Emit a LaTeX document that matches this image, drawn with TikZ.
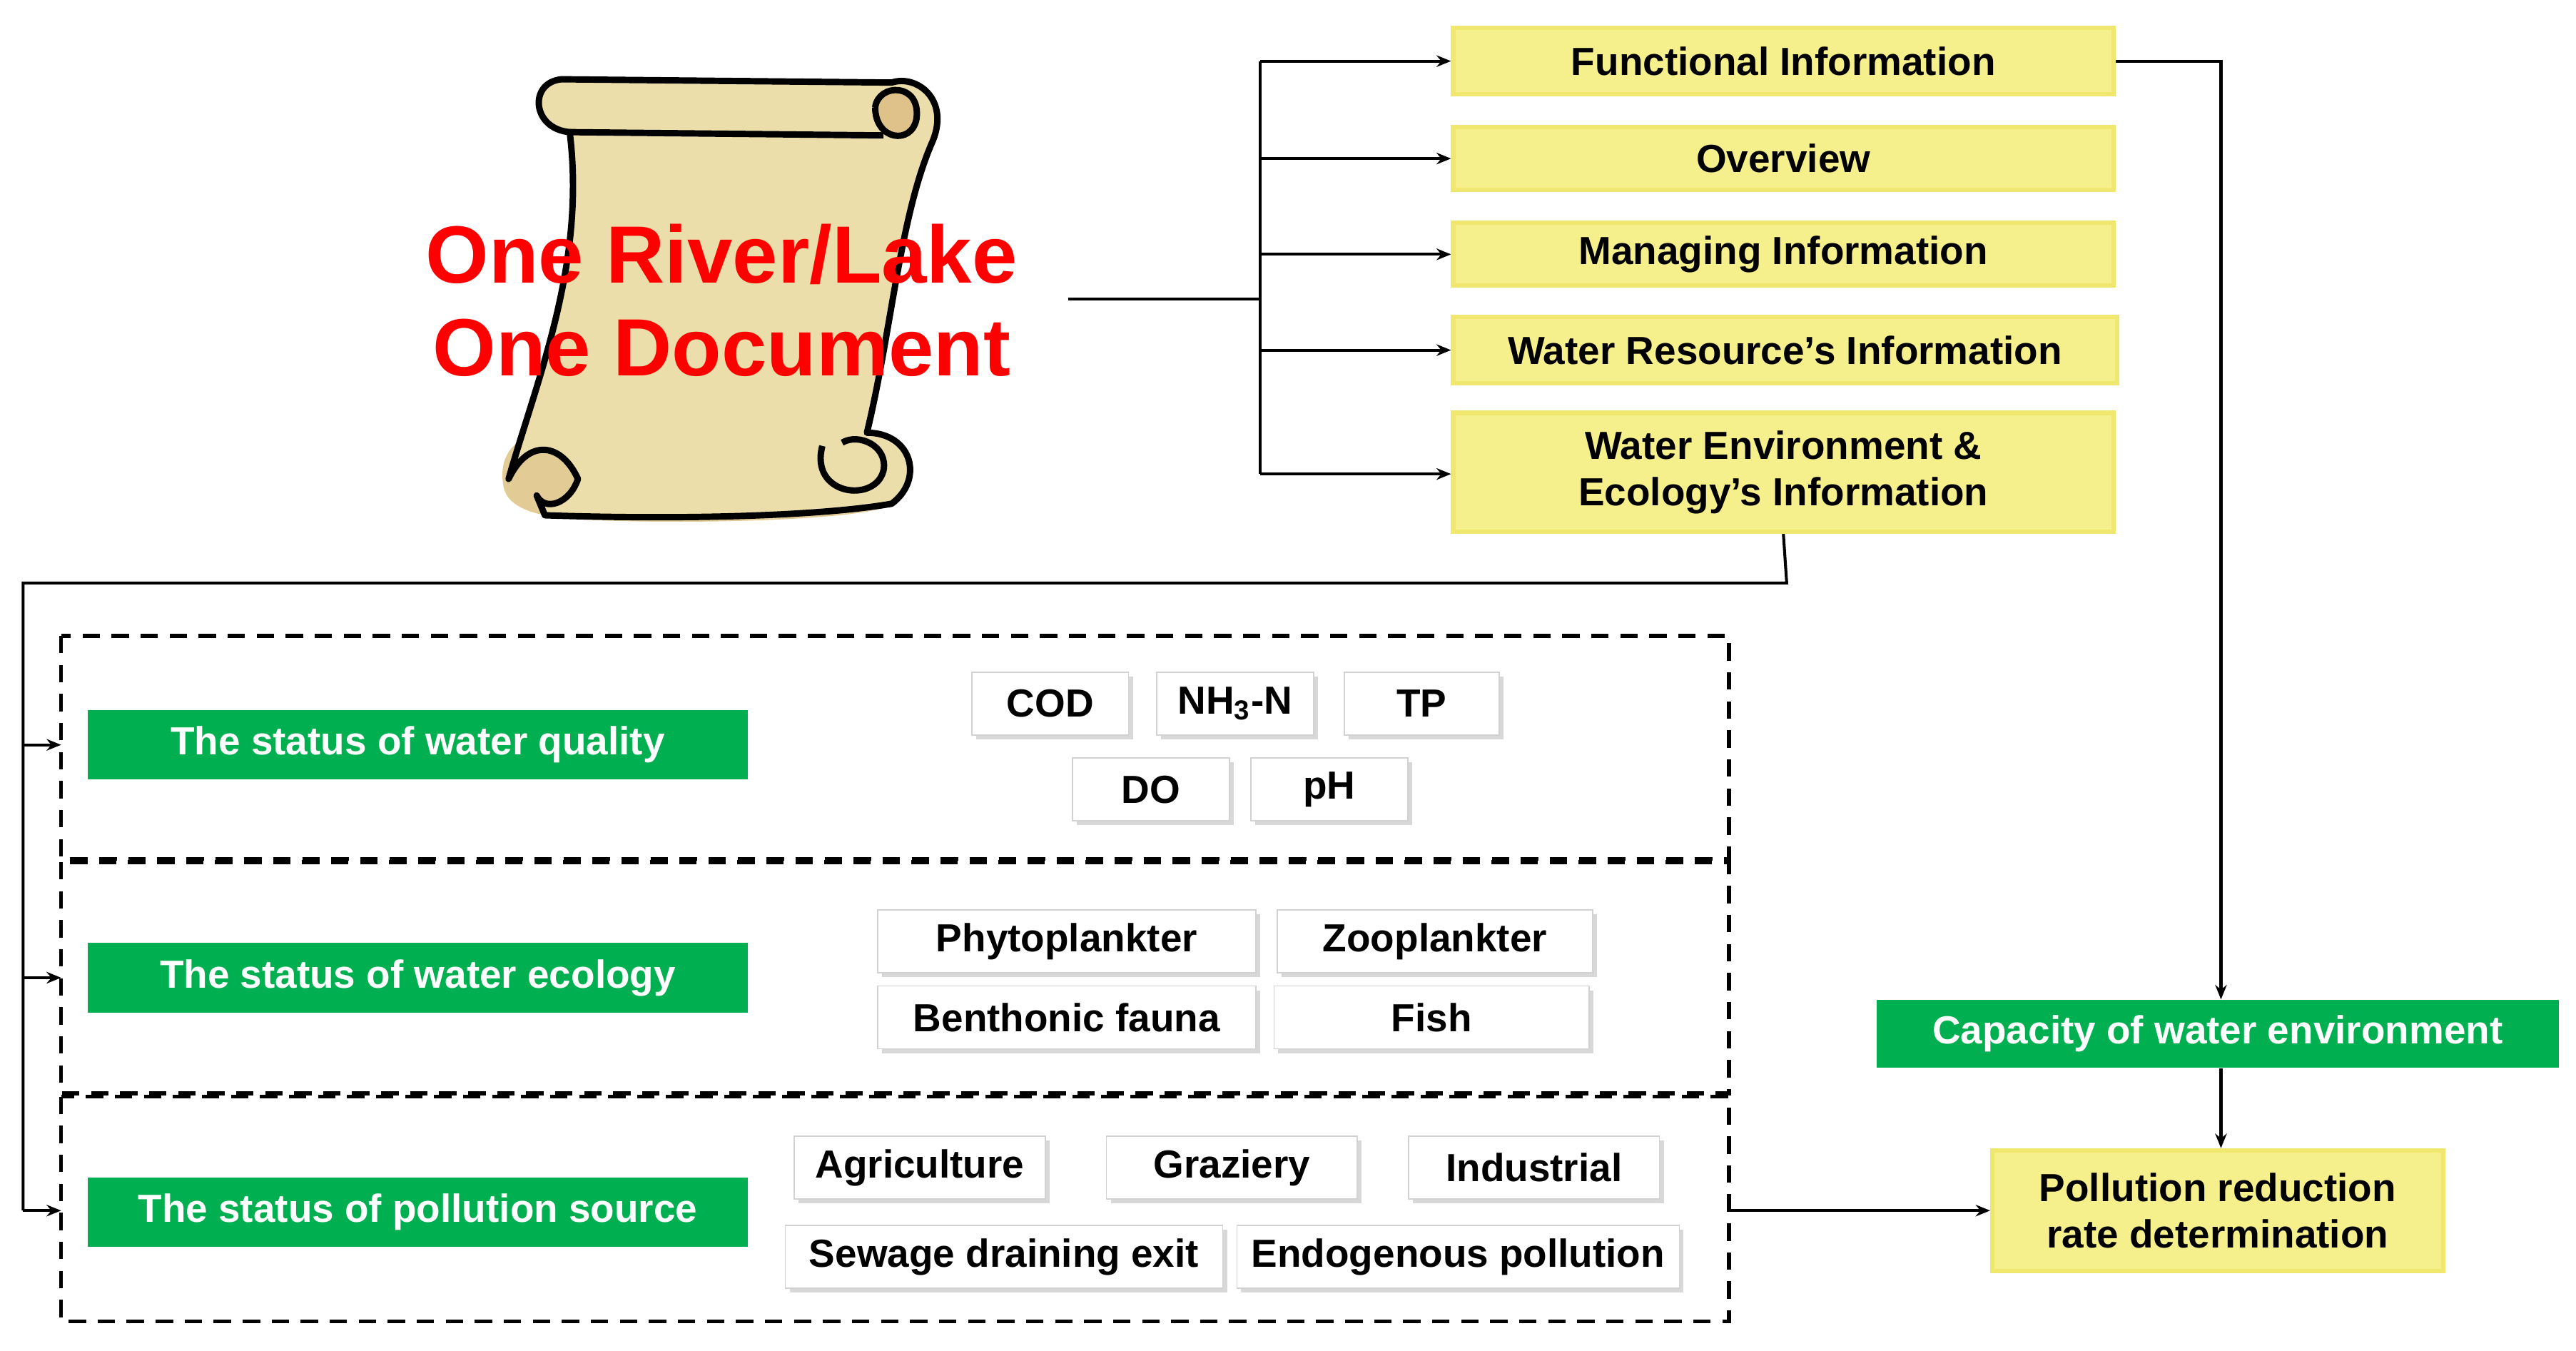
\documentclass[tikz,border=0pt]{standalone}
\usepackage{fontspec}
\setmainfont{Liberation Sans}
\usetikzlibrary{arrows.meta,shadows}
\definecolor{yel}{RGB}{246,240,140}
\definecolor{yelb}{RGB}{240,232,110}
\definecolor{grn}{RGB}{0,176,80}
\definecolor{parch}{RGB}{236,222,170}
\begin{document}
\begin{tikzpicture}[x=0.02cm,y=-0.02cm,
  font=\bfseries\fontsize{13.5}{16}\selectfont,
  ybox/.style={fill=yel,draw=yelb,line width=1.5pt,minimum width=8cm,align=center,inner sep=0pt},
  gbox/.style={fill=grn,text=white,minimum width=8cm,minimum height=0.84cm,inner sep=0pt},
  sbox/.style={fill=white,draw=gray!35,minimum height=0.76cm,inner sep=0pt,drop shadow={shadow xshift=1.5pt,shadow yshift=-1.5pt,fill=gray!60}},
  dbox/.style={draw,dashed,line width=1.3pt,dash pattern=on 6pt off 4pt},
  ln/.style={line width=1pt},
  ar/.style={ln,-{Stealth[length=5pt,width=4pt]}}]
\useasboundingbox (0,0) rectangle (1560,818);
% scroll
\begin{scope}[line width=2.2pt,line join=round]
\fill[parch!80!brown] (305,295) .. controls (300,270) and (320,258) .. (345,262) -- (520,262) .. controls (545,262) and (555,290) .. (540,305) .. controls (525,318) and (350,318) .. (330,312) .. controls (310,308) and (306,300) .. (305,295);
\draw[fill=parch] (345,80) .. controls (355,160) and (325,230) .. (308,290)
  .. controls (320,265) and (340,268) .. (350,290) .. controls (345,305) and (330,310) .. (325,300)
  -- (330,312) .. controls (420,315) and (500,312) .. (540,305)
  .. controls (560,290) and (552,262) .. (525,262)
  .. controls (540,200) and (545,130) .. (565,85)
  .. controls (575,60) and (555,45) .. (540,50) -- (340,48) .. controls (320,50) and (322,78) .. (345,80) -- cycle;
\draw[fill=parch!70!brown] (530,65) .. controls (532,50) and (558,50) .. (555,72) .. controls (552,88) and (530,85) .. (530,65);
\draw (345,80) -- (535,82);
\draw (498,270) .. controls (490,300) and (530,305) .. (535,285) .. controls (538,270) and (520,262) .. (510,268);
\end{scope}
\node[text=red,align=center,font=\bfseries\fontsize{28}{32}\selectfont] (title) at (437,182) {One River/Lake\\One Document};
\coordinate (s) at (647,181);
\coordinate (b) at (763,181);
% yellow boxes
\node[ybox,minimum height=0.8cm] (f) at (1080,37) {Functional Information};
\node[ybox,minimum height=0.76cm] (o) at (1080,96) {Overview};
\node[ybox,minimum height=0.76cm] (m) at (1080,154) {Managing Information};
\node[ybox,minimum height=0.8cm,minimum width=8.04cm] (r) at (1081,212) {Water Resource’s Information};
\node[ybox,minimum height=1.44cm] (e) at (1080,286) {Water Environment \&\\Ecology’s Information};
\node[ybox,minimum height=1.46cm,minimum width=5.46cm] (p) at (1343,733) {Pollution reduction\\rate determination};
\node[gbox,minimum width=8.26cm,minimum height=0.82cm] (c) at (1343,626) {Capacity of water environment};
\draw[ln] (s) -- (b);
\foreach \n/\y in {f/37,o/96,m/154,r/212,e/287}{\draw[ar] (763,\y) -- (\n.west|-0,\y);}
\draw[ln] (763,37) -- (763,287);
\draw[ar] (f.east) -- (1345,37) -- (c.north-|1345,0);
\draw[ar] (c.south-|1345,0) -- (p.north-|1345,0);
% dashed
\draw[dbox] (37,385) rectangle (1047,520);
\draw[dbox] (37,522) rectangle (1047,662);
\draw[dbox] (37,664) rectangle (1047,800);
\node[gbox] (g1) at (253,451) {The status of water quality};
\node[gbox] (g2) at (253,592) {The status of water ecology};
\node[gbox] (g3) at (253,734) {The status of pollution source};
\coordinate (l) at (14,353);
\draw[ln] (e.south) -- (1082,353) -- (l) -- (14,733);
\draw[ar] (14,451) -- (37,451);
\draw[ar] (14,592) -- (37,592);
\draw[ar] (14,733) -- (37,733);
\draw[ar] (1047,733) -- (p.west);
% small boxes
\node[sbox,minimum width=1.9cm] (cod) at (636,426) {COD};
\node[sbox,minimum width=1.9cm] (nh) at (748,426) {NH$_\mathbf{3}$-N};
\node[sbox,minimum width=1.88cm] (tp) at (861,426) {TP};
\node[sbox,minimum width=1.9cm] (do) at (697,478) {DO};
\node[sbox,minimum width=1.9cm] (ph) at (805,478) {pH};
\node[sbox,minimum width=4.58cm] (phy) at (646,570) {Phytoplankter};
\node[sbox,minimum width=3.82cm] (zoo) at (869,570) {Zooplankter};
\node[sbox,minimum width=4.58cm] (ben) at (646,616) {Benthonic fauna};
\node[sbox,minimum width=3.82cm] (fish) at (867,616) {Fish};
\node[sbox,minimum width=3.04cm] (agr) at (557,707) {Agriculture};
\node[sbox,minimum width=3.04cm] (gra) at (746,707) {Graziery};
\node[sbox,minimum width=3.04cm] (ind) at (929,707) {Industrial};
\node[sbox,minimum width=5.3cm] (sew) at (608,761) {Sewage draining exit};
\node[sbox,minimum width=5.36cm] (endo) at (883,761) {Endogenous pollution};
\end{tikzpicture}
\end{document}
